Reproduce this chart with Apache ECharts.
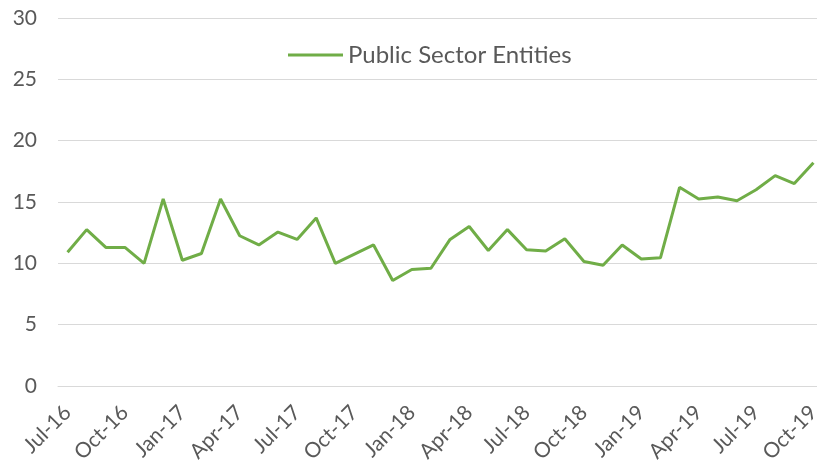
<!DOCTYPE html>
<html>
<head>
<meta charset="utf-8">
<script src="https://cdn.jsdelivr.net/npm/echarts@6/dist/echarts.min.js"></script>
<style>
  html, body { margin: 0; padding: 0; background: #fff; }
  #chart { width: 817px; height: 462px; }
</style>
</head>
<body>
<div id="chart"></div>
<script>
"use strict";

// months, Jul-16 .. Oct-19
var months = [
	'Jul-16', 'Aug-16', 'Sep-16', 'Oct-16', 'Nov-16', 'Dec-16',
	'Jan-17', 'Feb-17', 'Mar-17', 'Apr-17', 'May-17', 'Jun-17',
	'Jul-17', 'Aug-17', 'Sep-17', 'Oct-17', 'Nov-17', 'Dec-17',
	'Jan-18', 'Feb-18', 'Mar-18', 'Apr-18', 'May-18', 'Jun-18',
	'Jul-18', 'Aug-18', 'Sep-18', 'Oct-18', 'Nov-18', 'Dec-18',
	'Jan-19', 'Feb-19', 'Mar-19', 'Apr-19', 'May-19', 'Jun-19',
	'Jul-19', 'Aug-19', 'Sep-19', 'Oct-19'
];

var seriesName = 'Public Sector Entities';

// values
var publicSector = [
	10.9, 12.75, 11.3, 11.3, 10.0, 15.25,
	10.25, 10.8, 15.25, 12.25, 11.5, 12.55,
	11.95, 13.7, 10.0, 10.75, 11.5, 8.6,
	9.5, 9.6, 11.95, 13.0, 11.05, 12.75,
	11.1, 11.0, 12.0, 10.15, 9.85, 11.5,
	10.35, 10.45, 16.2, 15.25, 15.4, 15.1,
	16.0, 17.15, 16.5, 18.2
];

var yTicks = { min: 0, max: 30, interval: 5 };

var textColor = '#595959';
var gridColor = '#d9d9d9';
var fontName = 'Lato';

var myChart = echarts.init(document.getElementById('chart'));

var option = {
	animation: false,
	grid: {
		left: 58,
		width: 765,   // the last band runs a little past the right edge
		top: 18,
		bottom: 76,
		containLabel: false,
		outerBoundsMode: 'none'
	},
	legend: {
		data: [seriesName],
		left: 288,
		top: 43,
		padding: 0,
		icon: 'rect',
		itemWidth: 55,
		itemHeight: 3,
		textStyle: {
			color: textColor,
			fontFamily: fontName,
			fontSize: 24
		}
	},
	xAxis: {
		type: 'category',
		data: months,
		boundaryGap: true,
		axisLine: {
			lineStyle: { color: gridColor, width: 1 }
		},
		axisTick: {
			interval: 2,
			length: 5,
			lineStyle: { color: gridColor }
		},
		axisLabel: {
			interval: 2,
			rotate: 45,
			margin: 23,
			color: textColor,
			fontFamily: fontName,
			fontSize: 21
		},
		splitLine: { show: false }
	},
	yAxis: {
		type: 'value',
		min: yTicks.min,
		max: yTicks.max,
		interval: yTicks.interval,
		axisLine: { show: false },
		axisTick: { show: false },
		axisLabel: {
			margin: 21,
			color: textColor,
			fontFamily: fontName,
			fontSize: 21
		},
		splitLine: {
			lineStyle: { color: gridColor, width: 1 }
		}
	},
	series: [{
		name: seriesName,
		type: 'line',
		data: publicSector,
		symbol: 'none',
		smooth: false,
		lineStyle: { color: '#70AD47', width: 3 },
		itemStyle: { color: '#70AD47' }
	}]
};

myChart.setOption(option);
</script>
</body>
</html>
